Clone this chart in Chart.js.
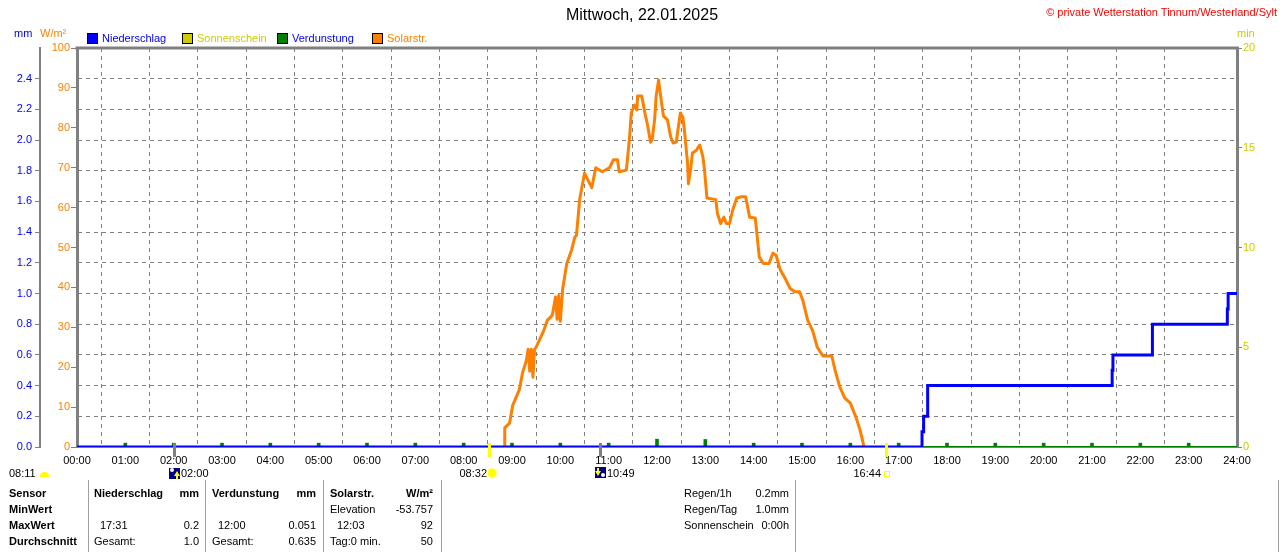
<!DOCTYPE html>
<html>
<head>
<meta charset="utf-8">
<title>Mittwoch, 22.01.2025</title>
<script src="https://cdn.jsdelivr.net/npm/chart.js@4.4.1/dist/chart.umd.min.js"></script>
<style>
  body { margin: 0; background: #fff; }
  #wrap { position: relative; width: 1280px; height: 552px; overflow: hidden; background: #fff;
          font-family: "Liberation Sans", Arial, sans-serif; font-size: 11px; color: #000; }
  #myChart { position: absolute; left: 0; top: 0; }
  .t { position: absolute; line-height: 14px; white-space: nowrap; }
  .box { position: absolute; top: 33px; width: 9px; height: 9px; border: 1px solid #000; }
  .sep { position: absolute; top: 480px; width: 1px; height: 72px; background: #a0a0a0; }
  .ico { position: absolute; }
</style>
</head>
<body>
<div id="wrap">
  <canvas id="myChart" width="1280" height="552"></canvas>
</div>
<script>
// x-Achse
const xTickLabels = ["00:00","01:00","02:00","03:00","04:00","05:00","06:00","07:00","08:00",
  "09:00","10:00","11:00","12:00","13:00","14:00","15:00","16:00","17:00","18:00","19:00",
  "20:00","21:00","22:00","23:00","24:00"];

// Solarstrahlung W/m²
const solarTime = ["08:51","08:51","08:57","09:01","09:09","09:13","09:18","09:20","09:22","09:24",
  "09:26","09:28","09:30","09:34","09:39","09:44","09:50","09:54","09:56","09:58",
  "10:00","10:03","10:08","10:14","10:18","10:20","10:24","10:30","10:34","10:39",
  "10:44","10:52","11:01","11:06","11:11","11:13","11:22","11:26","11:28","11:32",
  "11:35","11:36","11:41","11:45","11:48","11:52","11:54","11:57","11:59","12:02",
  "12:04","12:08","12:13","12:17","12:20","12:24","12:26","12:29","12:32","12:34",
  "12:38","12:39","12:42","12:44","12:49","12:53","12:57","12:59","13:02","13:13",
  "13:15","13:19","13:23","13:26","13:30","13:34","13:39","13:45","13:50","13:55",
  "14:02","14:07","14:12","14:19","14:24","14:28","14:33","14:40","14:45","14:51",
  "14:57","15:01","15:07","15:13","15:19","15:26","15:37","15:41","15:47","15:53",
  "16:00","16:07","16:12","16:15","16:17"];
const solarValue = [0,4.8,6,10.5,14.3,18.5,21.8,24.5,19,24.5,
  17.5,24.5,25,26.8,29,31.8,33,37.6,32,38,
  31.5,39.8,46,49.4,52.6,53,62,68.6,67,65,
  70,69,70,72,72,69,69.4,77.7,83.7,85.7,
  84.5,88,88,83.7,81,76.4,77,82,88,92,
  88.7,83,82,77.7,76.2,76.4,79.5,83.7,82.7,79.5,
  71,66,70,73.7,74.4,75.7,72.7,69.4,62.4,62,
  58.6,56,57.6,56,56,59.4,62.4,62.7,62.7,57.6,
  57.4,47.6,46,46,48.6,48,44.4,41.9,39.8,38.9,
  38.9,36.8,31.8,29.3,25,22.8,22.8,19.3,15,12.3,
  11,7.5,4.3,1.8,0];

// Niederschlag (Summe) mm
const rainTime = ["00:00","17:29","17:31","17:36","21:25","21:26","22:15","23:48","23:49","24:00"];
const rainValue = [0,0.1,0.2,0.4,0.5,0.6,0.8,0.9,1.0,1.0];

// Verdunstung mm je Stunde
const evapTime = ["01:00","02:00","03:00","04:00","05:00","06:00","07:00","08:00","09:00","10:00",
  "11:00","12:00","13:00","14:00","15:00","16:00","17:00","18:00","19:00","20:00",
  "21:00","22:00","23:00"];
const evapValue = [0.025,0.025,0.025,0.025,0.025,0.025,0.025,0.025,0.025,0.025,
  0.025,0.051,0.049,0.025,0.025,0.025,0.025,0.025,0.025,0.025,
  0.025,0.025,0.025];
const evapLineTime = ["00:00","24:00"];
const evapLineValue = [0,0];

// Sonnenschein min
const sunTime = ["00:00","24:00"];
const sunValue = [0,0];

// Sonne / Mond
const sunrise = "08:32", sunset = "16:44", moonrise = "02:00", moonset = "10:49";

function toMin(s) {
  const p = s.split(":").map(Number);
  return p[0] * 60 + p[1];
}
function pts(times, values) {
  return times.map((t, i) => ({ x: toMin(t), y: values[i] }));
}

const GRAY = "#808080";
Chart.defaults.font.family = "'Liberation Sans', Arial, sans-serif";
Chart.defaults.font.size = 11;

const extras = {
  id: "extras",
  beforeDatasetsDraw(chart) {
    const { ctx, chartArea } = chart;
    ctx.save();
    ctx.strokeStyle = GRAY;
    ctx.lineWidth = 3;
    ctx.beginPath();
    ctx.moveTo(chartArea.left - 1.5, chartArea.top);
    ctx.lineTo(chartArea.right + 1.5, chartArea.top);
    ctx.stroke();
    ctx.restore();
  },
  afterDatasetsDraw(chart) {
    const { ctx, chartArea, scales } = chart;
    const marks = [[moonrise, GRAY], [moonset, GRAY], [sunrise, "#ffff00"], [sunset, "#ffff00"]];
    ctx.save();
    marks.forEach(m => {
      const x = Math.round(scales.x.getPixelForValue(toMin(m[0])));
      ctx.fillStyle = m[1];
      ctx.fillRect(x - 1, chartArea.bottom - 4, 3, 14);
    });
    ctx.restore();
  }
};

const ctx = document.getElementById("myChart");
new Chart(ctx, {
  type: "line",
  data: {
    datasets: [
      { label: "Niederschlag", data: pts(rainTime, rainValue), yAxisID: "yMM",
        borderColor: "#0000ff", borderWidth: 3, stepped: true, pointRadius: 0, order: 0 },
      { label: "Solarstr.", data: pts(solarTime, solarValue), yAxisID: "yW",
        borderColor: "#ff8000", borderWidth: 3, pointRadius: 0, tension: 0, order: 1,
        borderJoinStyle: "round", borderCapStyle: "butt" },
      { type: "bar", label: "Verdunstung", data: pts(evapTime, evapValue), yAxisID: "yMM",
        backgroundColor: "#008000", barThickness: 3, order: 2 },
      { label: "Verdunstung", data: pts(evapLineTime, evapLineValue), yAxisID: "yMM",
        borderColor: "#008000", borderWidth: 2, pointRadius: 0, order: 3 },
      { label: "Sonnenschein", data: pts(sunTime, sunValue), yAxisID: "yMin",
        borderColor: "#cccc00", borderWidth: 2, pointRadius: 0, order: 4 }
    ]
  },
  options: {
    responsive: false,
    animation: false,
    devicePixelRatio: 1,
    layout: { padding: { top: 48, bottom: 80, left: 0, right: 0 } },
    plugins: { legend: { display: false }, tooltip: { enabled: false } },
    scales: {
      x: {
        type: "linear", min: 0, max: 1440, offset: false,
        ticks: { stepSize: 60, autoSkip: false, maxRotation: 0, color: "#000", padding: 7,
                 callback: (v, i) => xTickLabels[i] },
        grid: { color: c => (c.tick && (c.tick.value === 0 || c.tick.value === 1440)) ? "rgba(0,0,0,0)" : GRAY,
                lineWidth: 1, drawTicks: false },
        border: { display: true, color: GRAY, width: 2, dash: [4, 4] },
        afterFit: s => { s.height = 25; }
      },
      yMM: {
        position: "left", weight: 1, min: 0, max: 2.6,
        ticks: { stepSize: 0.2, color: "#0000ff", padding: 3,
                 callback: v => v > 2.5 ? "" : v.toFixed(1) },
        grid: { color: c => (c.tick && (c.tick.value === 0 || c.tick.value > 2.5)) ? "rgba(0,0,0,0)" : GRAY,
                tickColor: c => (c.tick && c.tick.value > 2.5) ? "rgba(0,0,0,0)" : GRAY,
                tickLength: 5, lineWidth: 1 },
        border: { display: true, color: GRAY, width: 2, dash: [4, 4] },
        afterFit: s => { s.width = 40; }
      },
      yW: {
        position: "left", weight: 0, min: 0, max: 100,
        ticks: { stepSize: 10, color: "#ff8000", padding: 1 },
        grid: { drawOnChartArea: false, tickColor: GRAY, tickLength: 6 },
        border: { display: true, color: GRAY, width: 3 },
        afterFit: s => { s.width = 37; }
      },
      yMin: {
        position: "right", min: 0, max: 20,
        ticks: { stepSize: 5, color: "#cccc00", padding: 1 },
        grid: { drawOnChartArea: false, tickColor: GRAY, tickLength: 5 },
        border: { display: true, color: GRAY, width: 3 },
        afterFit: s => { s.width = 43; }
      }
    }
  },
  plugins: [extras]
});

// Texte rund um das Diagramm
const wrap = document.getElementById("wrap");
function txt(s, x, y, o) {
  o = o || {};
  const d = document.createElement("div");
  d.className = "t";
  d.textContent = s;
  d.style.top = (y - 7) + "px";
  if (o.align === "right") d.style.right = (1280 - x) + "px";
  else if (o.align === "center") { d.style.left = (x - 200) + "px"; d.style.width = "400px"; d.style.textAlign = "center"; }
  else d.style.left = x + "px";
  if (o.color) d.style.color = o.color;
  if (o.bold) d.style.fontWeight = "bold";
  if (o.size) d.style.fontSize = o.size + "px";
  wrap.appendChild(d);
}
function el(cls, css) {
  const d = document.createElement("div");
  d.className = cls;
  Object.assign(d.style, css);
  wrap.appendChild(d);
  return d;
}

txt("Mittwoch, 22.01.2025", 642, 15, { align: "center", size: 16 });
txt("\u00a9 private Wetterstation Tinnum/Westerland/Sylt", 1277, 12, { align: "right", color: "#ff0000" });

txt("mm", 14, 33, { color: "#0000ff" });
txt("W/m\u00b2", 40, 33, { color: "#ff8000" });
txt("min", 1237, 33, { color: "#cccc00" });

const legendNames = ["Niederschlag", "Sonnenschein", "Verdunstung", "Solarstr."];
const legendBox = ["#0000ff", "#cccc00", "#008000", "#ff8000"];
const legendText = ["#0000ff", "#cccc00", "#0000ff", "#ff8000"];
const legendX = [87, 182, 277, 372];
legendNames.forEach((n, i) => {
  el("box", { left: legendX[i] + "px", background: legendBox[i] });
  txt(n, legendX[i] + 15, 38, { color: legendText[i] });
});

// Sonne / Mond Zeile
txt("08:11", 9, 473);
el("ico", { left: "40px", top: "472px", width: "9px", height: "5px", background: "#ffff00", borderRadius: "5px 5px 0 0" });
el("ico", { left: "169px", top: "468px", width: "11px", height: "11px", background: "#000080" });
el("ico", { left: "170px", top: "468px", width: "4px", height: "4px", background: "#fff", borderRadius: "2px" });
el("ico", { left: "174px", top: "471px", width: 0, height: 0, borderLeft: "3px solid transparent", borderRight: "3px solid transparent", borderBottom: "5px solid #ffff00" });
el("ico", { left: "176px", top: "476px", width: "2px", height: "3px", background: "#ffff00" });
txt("02:00", 181, 473);
txt("08:32", 487, 473, { align: "right" });
el("ico", { left: "488px", top: "469px", width: "8px", height: "8px", background: "#ffff00", borderRadius: "4px", boxShadow: "0 0 2px 1px #ffff66" });
el("ico", { left: "595px", top: "467px", width: "11px", height: "11px", background: "#000080" });
el("ico", { left: "597px", top: "468px", width: "2px", height: "3px", background: "#ffff00" });
el("ico", { left: "595px", top: "471px", width: 0, height: 0, borderLeft: "3px solid transparent", borderRight: "3px solid transparent", borderTop: "5px solid #ffff00" });
el("ico", { left: "601px", top: "473px", width: "4px", height: "4px", background: "#fff", borderRadius: "2px" });
txt("10:49", 607, 473);
txt("16:44", 881, 473, { align: "right" });
el("ico", { left: "884px", top: "471px", width: "4px", height: "4px", border: "1px solid #ffff00" });

// Tabelle
const rowY = [493, 509, 525, 541];
const tableCells = [
  ["Sensor", 9, 0, "left", true], ["MinWert", 9, 1, "left", true], ["MaxWert", 9, 2, "left", true], ["Durchschnitt", 9, 3, "left", true],
  ["Niederschlag", 94, 0, "left", true], ["mm", 199, 0, "right", true],
  ["17:31", 100, 2, "left"], ["0.2", 199, 2, "right"],
  ["Gesamt:", 94, 3, "left"], ["1.0", 199, 3, "right"],
  ["Verdunstung", 212, 0, "left", true], ["mm", 316, 0, "right", true],
  ["12:00", 218, 2, "left"], ["0.051", 316, 2, "right"],
  ["Gesamt:", 212, 3, "left"], ["0.635", 316, 3, "right"],
  ["Solarstr.", 330, 0, "left", true], ["W/m\u00b2", 433, 0, "right", true],
  ["Elevation", 330, 1, "left"], ["-53.757", 433, 1, "right"],
  ["12:03", 337, 2, "left"], ["92", 433, 2, "right"],
  ["Tag:0 min.", 330, 3, "left"], ["50", 433, 3, "right"],
  ["Regen/1h", 684, 0, "left"], ["0.2mm", 789, 0, "right"],
  ["Regen/Tag", 684, 1, "left"], ["1.0mm", 789, 1, "right"],
  ["Sonnenschein", 684, 2, "left"], ["0:00h", 789, 2, "right"]
];
tableCells.forEach(c => txt(c[0], c[1], rowY[c[2]], { align: c[3], bold: !!c[4] }));
[88, 205, 323, 441, 795, 1278].forEach(x => el("sep", { left: x + "px" }));
</script>
</body>
</html>
